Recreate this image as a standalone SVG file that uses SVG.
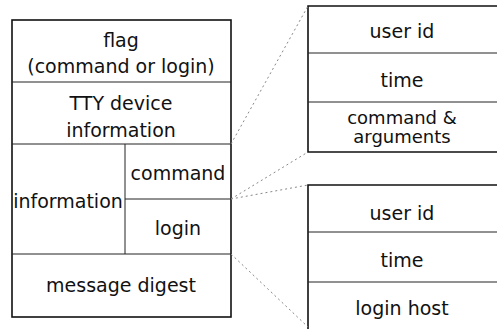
<svg xmlns="http://www.w3.org/2000/svg" width="497" height="329" viewBox="0 0 497 329">
<style>
.box{fill:#fff;stroke:#111;stroke-width:1.6}
.ln{stroke:#222;stroke-width:1;fill:none}
.t{font-family:"DejaVu Sans",Verdana,sans-serif;font-size:19px;fill:#111;text-anchor:middle}
.s{font-size:18px}
.c{stroke:#888;stroke-width:1;stroke-dasharray:2 3;fill:none}
</style>
<rect width="497" height="329" fill="#fff"/>
<g id="record">
<rect class="box" x="12" y="20" width="219" height="297"/>
<line class="ln" x1="12" y1="82" x2="231" y2="82"/>
<line class="ln" x1="12" y1="144" x2="231" y2="144"/>
<line class="ln" x1="125" y1="144" x2="125" y2="254"/>
<line class="ln" x1="125" y1="199" x2="231" y2="199"/>
<line class="ln" x1="12" y1="254" x2="231" y2="254"/>
<text class="t" x="121" y="47">flag</text>
<text class="t" x="121" y="73">(command or login)</text>
<text class="t" x="121" y="110">TTY device</text>
<text class="t" x="121" y="137">information</text>
<text class="t" x="68" y="208">information</text>
<text class="t" x="178" y="180">command</text>
<text class="t" x="178" y="235">login</text>
<text class="t" x="121" y="292">message digest</text>
</g>
<g id="command-record">
<path class="box" d="M499 6 H308 V152 H499"/>
<line class="ln" x1="308" y1="53" x2="497" y2="53"/>
<line class="ln" x1="308" y1="102" x2="497" y2="102"/>
<text class="t" x="402" y="38">user id</text>
<text class="t" x="402" y="87">time</text>
<text class="t s" x="402" y="124">command &amp;</text>
<text class="t s" x="402" y="143">arguments</text>
</g>
<g id="login-record">
<path class="box" d="M499 185 H308 V331"/>
<line class="ln" x1="308" y1="232" x2="497" y2="232"/>
<line class="ln" x1="308" y1="282" x2="497" y2="282"/>
<text class="t" x="402" y="220">user id</text>
<text class="t" x="402" y="267">time</text>
<text class="t" x="402" y="315">login host</text>
</g>
<g id="connectors">
<line class="c" x1="231" y1="144" x2="308" y2="6"/>
<line class="c" x1="231" y1="199" x2="308" y2="152"/>
<line class="c" x1="231" y1="199" x2="308" y2="185"/>
<line class="c" x1="231" y1="254" x2="308" y2="327"/>
</g>
</svg>
